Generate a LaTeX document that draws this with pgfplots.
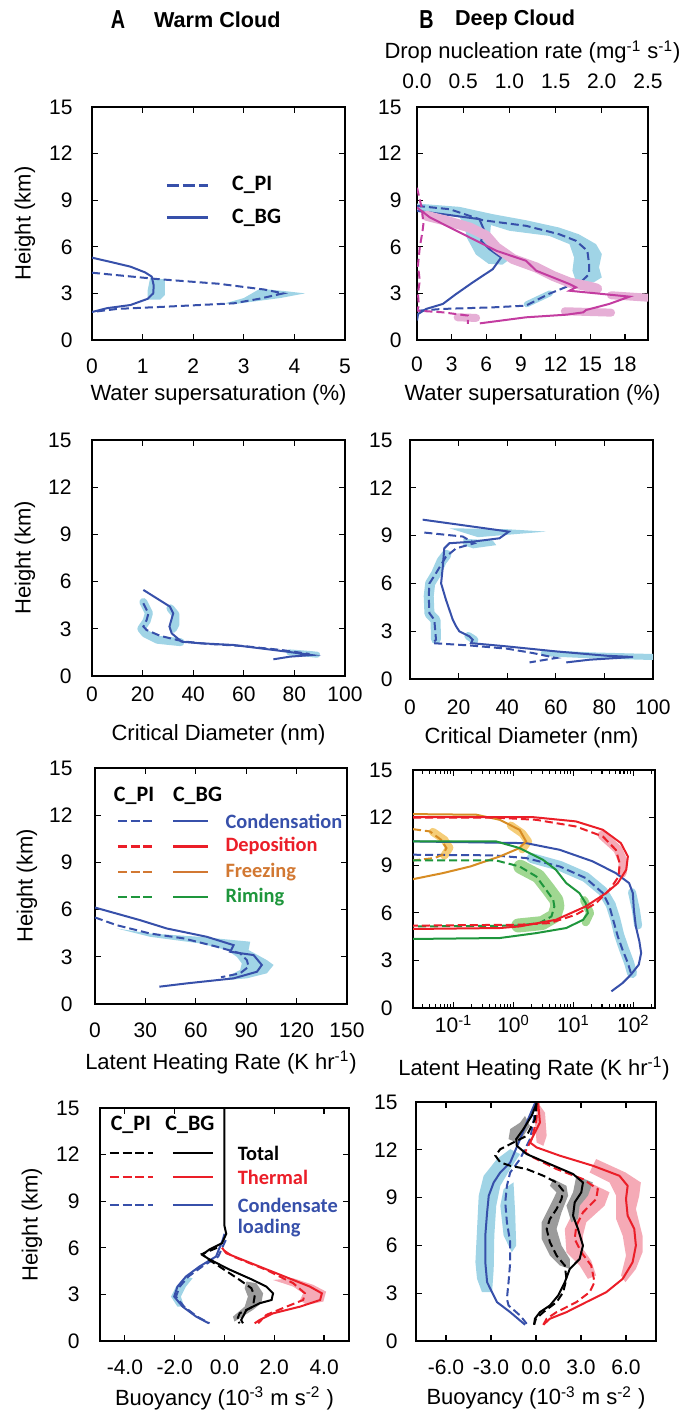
\documentclass[border=0pt]{standalone}
\usepackage{fontspec}
\setmainfont{Liberation Sans}
\newfontfamily\carlito{Carlito}
\usepackage{pgfplots}
\pgfplotsset{compat=1.18}

\definecolor{cblue}{RGB}{55,80,170}
\definecolor{lblue}{RGB}{160,212,230}
\definecolor{cmag}{RGB}{195,60,160}
\definecolor{lmag}{RGB}{230,175,214}
\definecolor{cred}{RGB}{235,30,40}
\definecolor{lred}{RGB}{245,170,182}
\definecolor{corange}{RGB}{215,140,35}
\definecolor{torange}{RGB}{210,120,50}
\definecolor{lorange}{RGB}{245,205,120}
\definecolor{cgreen}{RGB}{30,150,60}
\definecolor{lgreen}{RGB}{160,215,145}
\definecolor{lgray}{RGB}{155,155,155}

\pgfplotsset{
  panel/.style={
    scale only axis, anchor=south west,
    ymin=0, ymax=15, ytick={0,3,...,15},
    axis line style={line width=1.3pt},
    tick align=inside,
    major tick length=3pt, minor tick length=2pt,
    tick style={black, line width=0.6pt},
    tick label style={font=\fontsize{10.5}{12}\selectfont, inner sep=0pt},
    label style={font=\fontsize{11}{13}\selectfont},
    /pgf/number format/assume math mode=true,
    yticklabel style={anchor=east},
    xticklabel style={anchor=base},
    ylabel style={anchor=center},
    xlabel style={anchor=center},
  },
  pl/.style={line width=1pt},
  dsh/.style={line width=1pt, dash pattern=on 4pt off 2pt},
  bnd/.style={line width=#1, line cap=round, line join=round},
}
\newcommand{\lgfont}{\carlito\bfseries\fontsize{11}{12}\selectfont}
\newcommand{\lgfontb}{\carlito\bfseries\fontsize{10.2}{12}\selectfont}

\begin{document}
\begin{tikzpicture}
\path[use as bounding box] (0,0) rectangle (342.5pt,705.5pt);

% ---------- titles
\node[font=\bfseries\fontsize{13}{14}\selectfont, xscale=0.76] at (59pt,695.5pt) {A};
\node[anchor=west, font=\bfseries\fontsize{10.8}{12}\selectfont] at (73.5pt,695.5pt) {Warm Cloud};
\node[font=\bfseries\fontsize{13}{14}\selectfont, xscale=0.76] at (213.3pt,695.5pt) {B};
\node[anchor=west, font=\bfseries\fontsize{10.8}{12}\selectfont] at (224pt,695.5pt) {Deep Cloud};

% ================= A1
\begin{axis}[panel, at={(46pt,535.5pt)}, width=126.5pt, height=116.5pt,
  xmin=0, xmax=5, xtick={0,...,5},
  xticklabel style={yshift=-16.75pt}, yticklabel style={xshift=-9.5pt},
  xlabel={Water supersaturation (\%)}, xlabel style={at={(axis description cs:0.5,-0.236)}},
  ylabel={Height (km)}, ylabel style={at={(axis description cs:-0.265,0.5)}}]
\addplot[fill=lblue, draw=none] coordinates {(2.63,2.36) (3.0,2.7) (3.32,3.3) (3.8,3.15) (4.21,3.0) (3.72,2.7) (2.79,2.3)};
\addplot[fill=lblue, draw=none] coordinates {(1.15,4.0) (1.44,3.9) (1.44,2.9) (1.35,2.6) (1.1,2.6) (1.1,3.2)};
\addplot[cblue, dsh] coordinates {(0,4.33) (1.3,3.92) (2.5,3.62) (3.4,3.25) (3.78,3.0) (3.3,2.65) (2.8,2.36) (1.5,2.15) (0.5,2.0) (0,1.8)};
\addplot[cblue, pl] coordinates {(0,5.3) (0.4,5.0) (0.76,4.72) (1.05,4.35) (1.18,4.08) (1.22,3.5) (1.21,3.0) (1.1,2.65) (0.76,2.25) (0.3,2.05) (0,1.8)};
\draw[cblue, line width=1.5pt, dash pattern=on 6pt off 2pt] (axis description cs:0.296,0.665) -- (axis description cs:0.458,0.665);
\draw[cblue, line width=1.5pt] (axis description cs:0.296,0.524) -- (axis description cs:0.458,0.524);
\node[anchor=west, font=\lgfont] at (axis description cs:0.526,0.665) {C\_PI};
\node[anchor=west, font=\lgfont] at (axis description cs:0.526,0.524) {C\_BG};
\end{axis}

% ================= B1
\begin{axis}[panel, at={(208.5pt,535.5pt)}, width=115.5pt, height=116.5pt,
  xmin=0, xmax=20, xtick={0,3,...,18}, xtick pos=left,
  xticklabel style={yshift=-15.75pt}, yticklabel style={xshift=-7.5pt},
  xlabel={Water supersaturation (\%)}, xlabel style={at={(axis description cs:0.5,-0.236)}}]
\addplot[fill=lblue, draw=none] coordinates {(0,8.78) (3.68,8.57) (6.56,8.1) (9.43,7.71) (12.3,7.24) (14.0,6.81) (15.5,6.17) (16.0,5.53) (15.76,4.67) (16.0,4.03) (15.3,3.71)
  (13.75,3.81) (13.46,4.46) (13.6,5.31) (13.2,6.17) (11.45,6.7) (8.0,7.03) (6.4,7.4) (6.3,6.6) (7.2,6.1) (8.4,5.4) (7.4,4.85) (6.2,4.9) (5.1,5.5) (4.3,6.6) (4.1,7.45) (3.7,7.88) (1.1,8.2) (0,8.35)};
\addplot[lblue, bnd=3pt] coordinates {(9.5,2.3) (11.5,3.0)};
\addplot[cblue, dsh] coordinates {(0,8.63) (2.82,8.42) (5.69,7.71) (9.43,7.35) (12.3,6.81) (13.75,6.39) (14.75,5.74) (14.9,4.88) (14.9,4.24) (14.3,3.81) (13.2,3.5) (11.4,2.96) (9.43,2.21) (6.56,2.1) (2.24,2.0) (0.23,1.89) (0,1.5)};
\addplot[cblue, pl] coordinates {(0,8.31) (2.24,8.1) (5.4,7.78) (5.84,7.02) (5.55,6.38) (6.27,5.85) (7.28,5.31) (6.56,4.56) (4.83,3.71) (3.39,2.96) (2.24,2.32) (0.8,2.0) (0.09,1.67) (0,1.25)};
\end{axis}
\begin{axis}[panel, at={(208.5pt,535.5pt)}, width=115.5pt, height=116.5pt,
  xmin=0, xmax=2.5, xtick={0,0.5,...,2.5}, axis x line*=top, hide y axis,
  xticklabel style={yshift=9.25pt, /pgf/number format/.cd, fixed, fixed zerofill, precision=1},
  xlabel={Drop nucleation rate (mg\textsuperscript{-1} s\textsuperscript{-1})},
  xlabel style={at={(axis description cs:0.5,1.236)}}]
\addplot[lmag, bnd=5pt] coordinates {(0.1,8.0) (0.32,7.67) (0.57,7.24) (0.75,6.71) (0.86,5.96) (1.04,5.21) (1.29,4.67) (1.47,4.13) (1.65,3.7) (1.87,3.43) (1.95,3.3)};
\addplot[lmag, bnd=4pt] coordinates {(2.1,2.88) (2.5,2.72)};
\addplot[lmag, bnd=4pt] coordinates {(1.6,1.85) (2.1,1.76)};
\addplot[lmag, bnd=4pt] coordinates {(0.44,1.46) (0.64,1.42)};
\addplot[cmag, pl] coordinates {(0,8.53) (0.14,7.89) (0.32,7.35) (0.57,6.6) (0.86,5.74) (1.18,5.1) (1.29,4.46) (1.47,4.03) (1.65,3.6) (1.72,3.39) (1.65,3.17) (2.3,2.79) (2.08,2.32) (1.83,1.93) (1.8,1.78) (1.62,1.63) (1.18,1.46) (0.68,1.07)};
\addplot[cmag, dsh] coordinates {(0,9.8) (0.05,8.53) (0.07,7.5) (0.06,7.02) (0.03,5.96) (0.01,4.8) (0.03,3.81) (0.01,3.0) (0.02,2.2) (0,1.89) (0.28,1.78) (0.55,1.57) (0.55,1.03)};
\end{axis}

% ================= A2
\begin{axis}[panel, at={(46pt,367.5pt)}, width=126.5pt, height=118pt,
  xmin=0, xmax=100, xtick={0,20,...,100},
  xticklabel style={yshift=-12.75pt}, yticklabel style={xshift=-10pt},
  xlabel={Critical Diameter (nm)}, xlabel style={at={(axis description cs:0.5,-0.25)}},
  ylabel={Height (km)}, ylabel style={at={(axis description cs:-0.265,0.5)}}]
\addplot[lblue, bnd=4pt] coordinates {(20.3,4.7) (22.5,4.0) (21.6,3.5) (19.5,3.0) (21,2.7) (26,2.3) (35,2.15)};
\addplot[lblue, bnd=4pt] coordinates {(31,4.3) (33,3.9) (33,3.3) (32,3.0)};
\addplot[lblue, bnd=3pt] coordinates {(78,1.5) (86,1.4) (89,1.35)};
\addplot[cblue, pl] coordinates {(20.3,5.47) (30.8,4.41) (32.1,3.98) (30.6,3.14) (31.5,2.71) (35.4,2.18) (42.7,2.08) (55.9,1.97) (66.4,1.76) (76.9,1.55) (86.8,1.33) (78.3,1.23) (71.7,1.06)};
\addplot[cblue, dsh] coordinates {(20.3,4.62) (22.3,3.98) (21.6,3.56) (20.3,3.14) (21.6,2.92) (27,2.55) (32.1,2.35) (36,2.2) (45,2.05) (60,1.9) (75,1.65) (86,1.4)};
\end{axis}

% ================= B2
\begin{axis}[panel, at={(205pt,366pt)}, width=121.5pt, height=119.5pt,
  xmin=0, xmax=100, xtick={0,20,...,100},
  xticklabel style={yshift=-17.75pt}, yticklabel style={xshift=-8.5pt},
  xlabel={Critical Diameter (nm)}, xlabel style={at={(axis description cs:0.5,-0.247)}}]
\addplot[fill=lblue, draw=none] coordinates {(16.2,9.46) (40,9.4) (56,9.25) (40,9.05) (28,8.9)};
\addplot[fill=lblue, draw=none] coordinates {(22,8.8) (34,8.7) (35.5,8.4) (26,8.2) (22,8.4)};
\addplot[lblue, bnd=5pt] coordinates {(15,7.8) (13,7.4) (10.7,6.6) (8.3,6.0) (7.7,5.2) (8,4.1) (10.5,3.7) (10.7,2.5)};
\addplot[lblue, bnd=4pt] coordinates {(24,2.7) (26.5,2.45)};
\addplot[lblue, bnd=3pt] coordinates {(55,1.62) (75,1.48) (100,1.38)};
\addplot[cblue, pl] coordinates {(5.2,10.0) (40.7,9.25) (36.8,8.83) (25.8,8.62) (16.2,8.52) (14.1,8.2) (13.5,7.06) (12.8,6.0) (14.8,4.97) (17.6,3.72) (19.0,3.3) (20.3,2.99) (24.5,2.67) (25.8,2.46) (25.1,2.25) (39.6,2.05) (60.2,1.73) (80.8,1.46) (91.8,1.38) (73.9,1.21) (64.3,1.04)};
\addplot[cblue, dsh] coordinates {(5.9,9.19) (21.7,8.94) (26.5,8.52) (19,8.2) (14.8,7.68) (10.7,6.64) (8,6.0) (7.7,5.18) (8,4.13) (10,3.72) (10.7,2.46) (9.3,2.25) (25,2.1) (40,1.9) (50.5,1.63) (60.2,1.32) (49.2,1.04)};
\end{axis}

% ================= A3
\begin{axis}[panel, at={(47.5pt,203.5pt)}, width=126pt, height=118pt,
  xmin=0, xmax=150, xtick={0,30,...,150},
  xticklabel style={yshift=-17pt}, yticklabel style={xshift=-11pt},
  xlabel={Latent Heating Rate (K hr\textsuperscript{-1})}, xlabel style={at={(axis description cs:0.5,-0.246)}},
  ylabel={Height (km)}, ylabel style={at={(axis description cs:-0.27,0.5)}}]
\addplot[fill=lblue, draw=none] coordinates {(32.8,4.48) (62.6,4.27) (82.5,4.06) (92.4,3.96) (91.4,3.43) (102.3,2.79) (106.3,2.48) (102.3,1.95) (90.4,1.63) (78.5,1.52) (80.5,1.84) (86.4,2.16) (87.4,2.58) (84.4,3.0) (78.5,3.43) (62.6,3.85) (32.8,4.27) (12.9,4.8)};
\addplot[cblue, pl] coordinates {(0,6.13) (26.8,5.33) (42.7,4.8) (66.6,4.27) (82.5,3.74) (80.5,3.32) (94.4,3.11) (99.3,2.48) (96.4,2.05) (82.5,1.63) (54.6,1.31) (38.3,1.1)};
\addplot[cblue, dsh] coordinates {(0,5.5) (12.9,5.01) (32.8,4.48) (52.7,4.17) (72.5,3.64) (86.4,3.22) (90.4,2.79) (91.4,2.37) (86.4,1.95) (75,1.7)};
\node[font=\lgfont] at (axis description cs:0.155,0.881) {C\_PI};
\node[font=\lgfont] at (axis description cs:0.407,0.881) {C\_BG};
\draw[cblue, line width=1.4pt, dash pattern=on 4.5pt off 1.8pt] (axis description cs:0.091,0.775) -- (axis description cs:0.23,0.775);
\draw[cblue, line width=1.4pt] (axis description cs:0.31,0.775) -- (axis description cs:0.448,0.775);
\node[anchor=west, font=\lgfontb, text=cblue] at (axis description cs:0.49,0.775) {Condensation};
\draw[cred, line width=1.4pt, dash pattern=on 4.5pt off 1.8pt] (axis description cs:0.091,0.669) -- (axis description cs:0.23,0.669);
\draw[cred, line width=1.4pt] (axis description cs:0.31,0.669) -- (axis description cs:0.448,0.669);
\node[anchor=west, font=\lgfontb, text=cred] at (axis description cs:0.49,0.669) {Deposition};
\draw[torange, line width=1.4pt, dash pattern=on 4.5pt off 1.8pt] (axis description cs:0.091,0.559) -- (axis description cs:0.23,0.559);
\draw[torange, line width=1.4pt] (axis description cs:0.31,0.559) -- (axis description cs:0.448,0.559);
\node[anchor=west, font=\lgfontb, text=torange] at (axis description cs:0.49,0.559) {Freezing};
\draw[cgreen, line width=1.4pt, dash pattern=on 4.5pt off 1.8pt] (axis description cs:0.091,0.453) -- (axis description cs:0.23,0.453);
\draw[cgreen, line width=1.4pt] (axis description cs:0.31,0.453) -- (axis description cs:0.448,0.453);
\node[anchor=west, font=\lgfontb, text=cgreen] at (axis description cs:0.49,0.453) {Riming};
\end{axis}

% ================= B3
\begin{axis}[panel, at={(206.5pt,201.5pt)}, width=121pt, height=119pt,
  xmode=log, xmin=0.021, xmax=230,
  xtick={0.1,1,10,100},
  xticklabels={10\textsuperscript{-1},10\textsuperscript{0},10\textsuperscript{1},10\textsuperscript{2}},
  minor xtick={0.03,0.04,0.05,0.06,0.07,0.08,0.09,0.2,0.3,0.4,0.5,0.6,0.7,0.8,0.9,2,3,4,5,6,7,8,9,20,30,40,50,60,70,80,90,200},
  xticklabel style={yshift=-12.5pt}, yticklabel style={xshift=-10pt},
  xlabel={Latent Heating Rate (K hr\textsuperscript{-1})}, xlabel style={at={(axis description cs:0.5,-0.256)}}]
% bands
\addplot[lorange, bnd=4pt] coordinates {(0.9,11.5) (1.4,11.0) (1.75,10.5) (1.4,10.0)};
\addplot[lorange, bnd=4pt] coordinates {(0.045,11.1) (0.07,10.6) (0.085,10.1) (0.07,9.6)};
\addplot[lred, bnd=4.5pt] coordinates {(30,10.9) (55,10.0) (68,9.2) (65,8.5)};
\addplot[lblue, bnd=5pt] coordinates {(2,9.45) (6,8.95) (16,8.25) (31,7.35) (42,6.5) (50,5.6) (58,4.6) (70,3.7) (85,2.85) (95,2.2)};
\addplot[lblue, bnd=4pt] coordinates {(95,7.3) (110,6.2) (120,5.2)};
\addplot[lgreen, bnd=7pt] coordinates {(1.3,8.9) (2.6,8.3) (3.8,7.5) (5.2,6.8) (5.4,6.4) (4.8,5.8) (3.0,5.35) (1.2,5.2)};
\addplot[lgreen, bnd=4pt] coordinates {(15,6.8) (19,6.0) (16,5.4)};
% lines
\addplot[cblue, pl] coordinates {(0.021,10.5) (1.62,10.39) (5.9,9.97) (21,9.24) (51,8.5) (85,7.87) (98,7.24) (102,6.19) (110,5.14) (126,4.2) (135,3.46) (123,2.73) (91,2.1) (66,1.57) (43,1.05)};
\addplot[cblue, dsh] coordinates {(0.021,9.66) (0.46,9.62) (1.62,9.45) (5.9,8.92) (16,8.19) (31,7.24) (40,6.4) (46,5.56) (55,4.51) (66,3.67) (81,2.83) (91,2.2) (85,2.0)};
\addplot[corange, pl] coordinates {(0.021,12.22) (0.24,12.18) (0.59,11.86) (1.26,11.23) (1.62,10.5) (1.26,10.08) (0.59,9.55) (0.19,8.92) (0.066,8.5) (0.021,8.12)};
\addplot[corange, dsh] coordinates {(0.021,11.27) (0.04,11.13) (0.062,10.6) (0.076,10.08) (0.066,9.66) (0.048,9.45) (0.021,9.3)};
\addplot[cgreen, pl] coordinates {(0.021,10.5) (0.51,10.5) (1.26,10.08) (3.1,9.34) (5.1,8.71) (7.6,7.87) (12.6,7.24) (16,6.61) (17.4,5.98) (14.5,5.56) (7.6,5.04) (2.4,4.72) (0.59,4.41) (0.021,4.35)};
\addplot[cgreen, dsh] coordinates {(0.021,9.3) (0.51,9.3) (1.26,8.92) (2.4,8.29) (3.5,7.45) (4.6,6.82) (4.8,6.4) (4.3,5.77) (2.7,5.35) (1.1,5.19) (0.021,5.14)};
\addplot[cred, pl] coordinates {(0.021,12.03) (2.1,12.03) (11,11.76) (31,11.23) (62,10.39) (81,9.55) (76,8.71) (55,7.87) (35,7.24) (16,6.4) (5.1,5.56) (1.26,5.14) (0.59,5.04) (0.021,4.98)};
\addplot[cred, dsh] coordinates {(0.021,12.0) (0.5,12.0) (2.4,11.86) (11,11.44) (31,10.81) (51,9.97) (59,9.13) (57,8.29) (40,7.45) (24,6.61) (11,5.88) (4,5.35) (1.26,5.25) (0.021,5.19)};
\end{axis}

% ================= A4
\begin{axis}[panel, at={(50pt,35pt)}, width=124.5pt, height=116.5pt,
  xmin=-5, xmax=5, xtick={-4,-2,...,4},
  xticklabel style={yshift=-16.75pt, /pgf/number format/.cd, fixed, fixed zerofill, precision=1},
  yticklabel style={xshift=-10pt},
  xlabel={Buoyancy (10\textsuperscript{-3} m s\textsuperscript{-2} )}, xlabel style={at={(axis description cs:0.5,-0.245)}},
  ylabel={Height (km)}, ylabel style={at={(axis description cs:-0.273,0.5)}}]
\addplot[fill=lgray, draw=none] coordinates {(0.88,3.83) (1.28,3.72) (1.55,3.07) (1.48,2.43) (1.14,2.0) (0.61,1.46) (0.4,1.25) (0.34,1.57) (0.81,2.21) (0.94,2.86) (0.81,3.4)};
\addplot[fill=lred, draw=none] coordinates {(2.76,4.04) (3.57,3.61) (4.08,3.18) (3.97,2.54) (3.3,2.32) (3.03,2.64) (3.16,3.07) (2.76,3.5) (1.95,3.93)};
\addplot[fill=lblue, draw=none] coordinates {(-1.55,4.15) (-1.95,3.5) (-2.15,2.86) (-1.89,2.21) (-1.62,2.21) (-1.75,2.86) (-1.55,3.5) (-1.28,4.04)};
\addplot[cblue, pl] coordinates {(0,6.9) (-0.07,6.51) (-0.34,5.44) (-1.01,4.79) (-1.55,4.15) (-1.89,3.5) (-2.02,2.86) (-1.68,2.21) (-1.14,1.57) (-0.63,1.14)};
\addplot[cblue, dsh] coordinates {(0.05,6.5) (-0.25,5.44) (-0.9,4.79) (-1.45,4.15) (-1.8,3.5) (-1.95,2.86) (-1.62,2.21) (-1.1,1.57) (-0.6,1.14)};
\addplot[cred, pl] coordinates {(-0.1,6.0) (0.07,5.65) (1.41,4.79) (2.76,3.93) (3.43,3.5) (3.91,3.07) (3.84,2.64) (3.03,2.21) (1.95,1.78) (1.41,1.35) (1.21,1.14)};
\addplot[cred, dsh] coordinates {(0.0,5.8) (0.34,5.44) (1.68,4.58) (2.76,3.72) (3.23,3.07) (3.16,2.64) (2.49,2.21) (1.68,1.68) (1.35,1.14)};
\addplot[black, pl] coordinates {(0,15) (0,7.4) (0.07,6.9) (-0.1,6.3) (-0.6,5.9) (-0.9,5.55) (-0.6,5.25) (0.2,4.6) (1.14,3.93) (1.68,3.5) (1.95,3.07) (1.89,2.64) (1.41,2.43) (0.88,2.0) (0.67,1.35) (0.74,1.14)};
\addplot[black, dsh] coordinates {(-0.3,6.0) (-0.9,5.6) (-0.6,5.2) (-0.2,4.79) (0.61,3.93) (1.08,3.4) (1.21,2.86) (1.14,2.21) (0.61,1.78) (0.5,1.35) (0.61,1.14)};
\node[font=\lgfont] at (axis description cs:0.124,0.927) {C\_PI};
\node[font=\lgfont] at (axis description cs:0.361,0.927) {C\_BG};
\draw[black, line width=1.4pt, dash pattern=on 4.5pt off 1.8pt] (axis description cs:0.04,0.807) -- (axis description cs:0.213,0.807);
\draw[black, line width=1.4pt] (axis description cs:0.293,0.807) -- (axis description cs:0.454,0.807);
\node[anchor=west, font=\lgfontb] at (axis description cs:0.525,0.807) {Total};
\draw[cred, line width=1.4pt, dash pattern=on 4.5pt off 1.8pt] (axis description cs:0.04,0.704) -- (axis description cs:0.213,0.704);
\draw[cred, line width=1.4pt] (axis description cs:0.293,0.704) -- (axis description cs:0.454,0.704);
\node[anchor=west, font=\lgfontb, text=cred] at (axis description cs:0.525,0.704) {Thermal};
\draw[cblue, line width=1.4pt, dash pattern=on 4.5pt off 1.8pt] (axis description cs:0.04,0.584) -- (axis description cs:0.213,0.584);
\draw[cblue, line width=1.4pt] (axis description cs:0.293,0.584) -- (axis description cs:0.454,0.584);
\node[anchor=west, font=\lgfontb, text=cblue] at (axis description cs:0.525,0.584) {Condensate};
\node[anchor=west, font=\lgfontb, text=cblue] at (axis description cs:0.525,0.485) {loading};
\end{axis}

% ================= B4
\begin{axis}[panel, at={(208pt,35pt)}, width=120pt, height=119.5pt,
  xmin=-8, xmax=8, xtick={-6,-3,...,6},
  xticklabel style={yshift=-16.75pt, /pgf/number format/.cd, fixed, fixed zerofill, precision=1},
  yticklabel style={xshift=-9pt},
  xlabel={Buoyancy (10\textsuperscript{-3} m s\textsuperscript{-2} )}, xlabel style={at={(axis description cs:0.5,-0.238)}}]
% bands
\addplot[fill=lblue, draw=none] coordinates {(-1.72,12.04) (-2.6,11.42) (-3.49,10.37) (-3.82,9.12) (-3.93,7.03) (-4.04,4.94) (-3.93,3.9) (-3.6,3.06) (-2.93,3.06) (-2.82,4.5) (-2.78,6.61) (-2.65,8.49) (-2.38,9.74) (-1.72,10.79) (-1.06,11.73)};
\addplot[fill=lblue, draw=none] coordinates {(-2.16,9.53) (-1.5,9.95) (-1.39,8.07) (-1.32,5.99) (-1.61,5.57) (-2.16,6.61) (-2.38,8.49)};
\addplot[fill=lred, draw=none] coordinates {(0.15,14.92) (0.6,14.33) (0.71,12.88) (0.49,12.25) (0.04,12.46) (-0.07,13.71)};
\addplot[fill=lred, draw=none] coordinates {(4.01,11.42) (5.96,10.58) (6.99,9.95) (6.88,9.12) (6.66,8.28) (7.1,6.61) (7.1,5.57) (6.66,4.52) (5.96,3.69) (5.67,4.11) (6.0,5.36) (5.78,6.61) (5.34,7.66) (5.34,9.12) (4.9,9.95) (3.57,10.58)};
\addplot[fill=lred, draw=none] coordinates {(3.57,9.95) (4.9,9.33) (4.57,8.49) (3.35,7.45) (3.13,6.61) (3.13,5.78) (3.68,5.04) (4.01,4.11) (3.46,3.9) (2.91,4.74) (2.03,5.57) (1.92,7.03) (2.47,8.07) (3.35,9.12)};
\addplot[fill=lgray, draw=none] coordinates {(-0.73,14.13) (-1.06,13.71) (-1.72,13.3) (-1.83,12.67) (-1.28,12.46) (-0.84,12.88) (-0.4,13.5)};
\addplot[fill=lgray, draw=none] coordinates {(1.15,10.16) (2.03,9.74) (2.14,9.12) (1.7,8.07) (1.37,7.03) (1.7,5.99) (2.25,5.15) (2.25,4.52) (1.59,4.74) (0.93,5.36) (0.38,6.4) (0.38,7.45) (0.93,8.49) (1.37,9.33) (0.93,9.74)};
\addplot[fill=lgray, draw=none] coordinates {(2.69,10.37) (3.79,9.95) (3.46,9.12) (2.91,8.49) (2.8,7.66) (2.36,7.45) (2.03,8.49) (2.47,9.33)};
% lines
\addplot[cblue, pl] coordinates {(-0.07,14.92) (-0.62,13.71) (-1.06,12.67) (-1.72,11.2) (-2.38,10.58) (-2.82,9.95) (-3.15,9.12) (-3.26,8.07) (-3.38,6.61) (-3.38,4.94) (-3.26,3.69) (-2.6,2.44) (-1.72,1.81) (-0.73,1.02)};
\addplot[cblue, dsh] coordinates {(0,14.92) (-0.18,13.71) (-0.4,12.67) (-1.06,11.42) (-1.72,10.58) (-1.94,9.74) (-2.05,8.7) (-1.94,7.45) (-1.72,6.2) (-1.72,4.94) (-1.83,3.69) (-1.94,2.65) (-1.83,2.23) (-1.06,1.6) (-0.62,1.08)};
\addplot[cred, pl] coordinates {(0.15,14.92) (0.26,13.71) (-0.4,12.46) (0.04,12.15) (1.59,11.63) (3.79,11.0) (5.56,10.37) (6.11,9.74) (6.0,8.91) (6.11,7.86) (6.55,7.03) (6.66,5.99) (6.44,4.94) (5.78,3.9) (4.68,3.06) (3.35,2.44) (2.03,1.81) (0.93,1.4) (0.49,1.02)};
\addplot[cred, dsh] coordinates {(0.15,14.92) (0,13.71) (-0.29,12.67) (-0.73,11.84) (-0.18,11.52) (1.37,10.79) (3.13,10.16) (4.12,9.53) (4.01,8.91) (3.13,8.07) (2.69,7.24) (2.58,6.4) (3.02,5.57) (3.68,4.74) (3.9,3.69) (3.57,3.06) (2.69,2.44) (1.37,1.81) (0.71,1.4) (0.49,1.02)};
\addplot[black, pl] coordinates {(0.04,14.92) (-0.29,14.13) (-0.84,13.3) (-1.32,12.67) (-1.28,12.25) (-0.62,11.73) (0.93,11.1) (2.47,10.48) (3.13,9.95) (3.02,9.33) (2.58,8.7) (2.47,7.86) (2.8,7.03) (3.13,5.99) (2.91,5.15) (2.25,4.52) (1.92,3.69) (1.48,2.86) (0.93,2.23) (0.26,1.81) (-0.07,1.4) (-0.13,1.02)};
\addplot[black, dsh] coordinates {(0.04,14.92) (-0.07,13.92) (-0.62,12.88) (-1.5,12.46) (-2.38,12.04) (-2.71,11.63) (-2.38,11.21) (-1.72,11.0) (-0.62,10.79) (0.49,10.37) (1.37,9.95) (1.81,9.43) (1.7,8.91) (1.37,8.28) (0.93,7.66) (0.71,7.03) (0.93,6.2) (1.37,5.36) (1.92,4.74) (2.03,3.9) (1.81,3.06) (1.37,2.44) (0.49,1.81) (0,1.4) (-0.13,1.02)};
\end{axis}
\end{tikzpicture}
\end{document}
